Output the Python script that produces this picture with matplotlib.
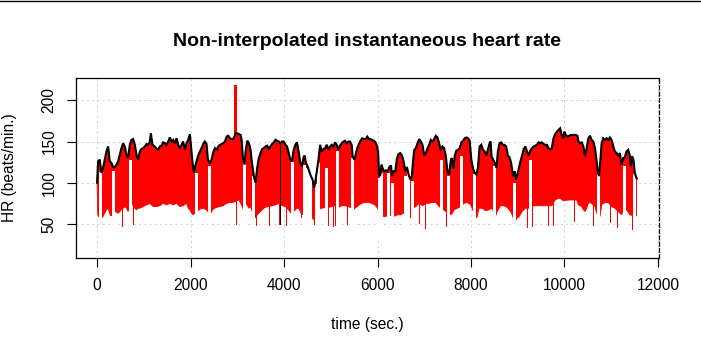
import numpy as np
import matplotlib
matplotlib.use("Agg")
import matplotlib.pyplot as plt
from matplotlib.lines import Line2D

plt.rcParams['font.family'] = ['Liberation Sans', 'DejaVu Sans']

# ---------------- data ----------------
upper_t = [0, 21, 57, 93, 128, 164, 200, 236, 271, 307, 343, 378, 414, 450, 486, 521, 557, 593, 628, 664,
           700, 735, 771, 807, 843, 878, 914, 950, 985, 1021, 1057, 1092, 1128, 1150, 1185, 1235, 1271, 1307,
           1342, 1378, 1414, 1450, 1485, 1521, 1557, 1592, 1628, 1664, 1700, 1735, 1771, 1807, 1842, 1878,
           1914, 1950, 1985, 2007, 2035, 2071, 2100, 2128, 2164, 2200, 2235, 2271, 2307, 2342, 2371, 2414,
           2450, 2485, 2521, 2557, 2592, 2628, 2664, 2700, 2735, 2771, 2807, 2842, 2878, 2914, 2964, 3000,
           3036, 3071, 3092, 3120, 3156, 3177, 3213, 3248, 3284, 3305, 3319, 3355, 3390, 3426, 3461, 3497,
           3532, 3568, 3603, 3639, 3674, 3710, 3745, 3781, 3816, 3852, 3887, 3922, 3957, 3993, 4028, 4064,
           4099, 4135, 4170, 4206, 4241, 4277, 4312, 4348, 4383, 4419, 4440, 4468, 4503, 4539, 4574, 4610,
           4645, 4666, 4702, 4737, 4773, 4808, 4844, 4879, 4915, 4950, 4985, 5021, 5056, 5092, 5127, 5163,
           5198, 5234, 5269, 5305, 5340, 5376, 5411, 5447, 5468, 5503, 5532, 5567, 5603, 5638, 5674, 5709,
           5745, 5780, 5816, 5851, 5887, 5922, 5958, 5993, 6014, 6035, 6063, 6085, 6120, 6147, 6182, 6218,
           6253, 6289, 6310, 6346, 6381, 6417, 6452, 6488, 6523, 6559, 6594, 6630, 6665, 6701, 6736, 6757,
           6786, 6821, 6857, 6892, 6928, 6963, 6999, 7034, 7070, 7105, 7141, 7176, 7212, 7247, 7283, 7318,
           7354, 7389, 7425, 7460, 7496, 7531, 7567, 7588, 7624, 7652, 7688, 7723, 7759, 7794, 7830, 7865,
           7901, 7936, 7972, 8007, 8043, 8078, 8114, 8149, 8185, 8220, 8256, 8291, 8327, 8362, 8398, 8419,
           8440, 8476, 8511, 8547, 8575, 8611, 8646, 8682, 8717, 8753, 8788, 8824, 8859, 8895, 8916, 8937,
           8966, 8987, 9022, 9058, 9093, 9129, 9164, 9198, 9233, 9269, 9304, 9340, 9375, 9411, 9446, 9482,
           9517, 9553, 9588, 9624, 9659, 9695, 9730, 9766, 9801, 9837, 9872, 9908, 9943, 9979, 10000, 10028,
           10064, 10099, 10135, 10170, 10206, 10241, 10277, 10298, 10334, 10369, 10405, 10440, 10476, 10511,
           10547, 10582, 10618, 10653, 10689, 10710, 10738, 10767, 10795, 10831, 10866, 10902, 10937, 10973,
           11008, 11044, 11079, 11115, 11150, 11186, 11221, 11257, 11292, 11328, 11363, 11399, 11420, 11448,
           11476, 11505, 11526, 11545]
upper_hr = [100, 126, 128, 112, 118, 128, 138, 144, 126, 124, 119, 119, 122, 126, 134, 142, 148, 144, 134, 130,
            146, 152, 153, 146, 134, 128, 138, 141, 142, 144, 147, 146, 150, 160, 146, 144, 141, 140,
            144, 145, 149, 148, 146, 150, 155, 150, 152, 148, 154, 146, 142, 146, 150, 140,
            148, 152, 159, 146, 128, 112, 120, 126, 133, 138, 142, 147, 150, 147, 128, 124,
            128, 137, 142, 140, 144, 146, 147, 148, 150, 156, 157, 154, 153, 153, 160, 160,
            159, 158, 152, 130, 122, 138, 151, 148, 140, 128, 122, 108, 100, 118, 130, 136,
            141, 142, 144, 145, 141, 144, 147, 149, 152, 151, 150, 148, 150, 150, 146, 144,
            136, 128, 126, 140, 146, 149, 138, 124, 120, 131, 133, 124, 120, 114, 108, 104,
            94, 100, 114, 128, 146, 138, 141, 142, 146, 140, 144, 146, 144, 149, 146, 140,
            145, 148, 150, 151, 148, 150, 150, 146, 132, 128, 134, 142, 147, 151, 154, 153,
            153, 156, 153, 153, 152, 151, 149, 144, 136, 108, 110, 122, 116, 114, 115, 114,
            119, 121, 108, 114, 114, 130, 135, 136, 133, 126, 114, 119, 110, 104, 108, 124,
            140, 142, 148, 153, 150, 146, 133, 136, 142, 146, 152, 150, 153, 157, 155, 148,
            139, 144, 142, 133, 114, 110, 126, 130, 117, 133, 139, 140, 142, 149, 151, 154,
            155, 154, 151, 128, 117, 112, 110, 118, 144, 146, 140, 138, 133, 140, 148, 150,
            132, 128, 124, 118, 138, 148, 149, 146, 146, 144, 133, 131, 124, 110, 108, 114,
            104, 108, 117, 126, 133, 141, 144, 138, 133, 139, 142, 144, 145, 146, 149, 148,
            149, 147, 146, 146, 142, 140, 142, 154, 159, 162, 164, 166, 158, 154, 162, 158,
            156, 157, 158, 158, 158, 158, 157, 150, 148, 149, 144, 132, 142, 154,
            157, 152, 150, 142, 126, 114, 108, 126, 148, 154, 152, 154, 152, 155,
            152, 144, 138, 136, 133, 136, 122, 130, 131, 138, 140, 133, 120, 132,
            128, 112, 108, 105]

lower_t = [14, 57, 93, 128, 164, 200, 236, 257, 286, 314, 385, 414, 450, 486, 521, 557, 593, 628, 664, 700,
           735, 771, 807, 843, 878, 914, 985, 1057, 1128, 1200, 1271, 1342, 1414, 1485, 1557, 1628, 1700,
           1771, 1842, 1914, 1950, 1985, 2021, 2057, 2092, 2128, 2164, 2200, 2271, 2342, 2414, 2450, 2485,
           2557, 2628, 2700, 2771, 2842, 2914, 2985, 3036, 3107, 3142, 3178, 3213, 3248, 3284, 3319, 3376,
           3404, 3426, 3461, 3497, 3532, 3568, 3603, 3639, 3674, 3745, 3816, 3887, 3957, 4028, 4064, 4099,
           4135, 4170, 4206, 4241, 4277, 4312, 4348, 4383, 4419, 4454, 4489, 4525, 4560, 4596, 4631, 4666,
           4702, 4737, 4773, 4808, 4879, 4950, 5021, 5092, 5163, 5234, 5305, 5376, 5447, 5482, 5518, 5589,
           5660, 5730, 5766, 5801, 5872, 5943, 6000, 6028, 6070, 6111, 6182, 6253, 6346, 6431, 6502, 6537,
           6608, 6679, 6715, 6750, 6821, 6892, 6963, 7034, 7105, 7176, 7247, 7318, 7389, 7460, 7531, 7567,
           7602, 7638, 7709, 7780, 7851, 7922, 7993, 8064, 8099, 8135, 8170, 8241, 8312, 8383, 8454, 8490,
           8525, 8561, 8632, 8703, 8774, 8845, 8880, 8916, 8951, 9022, 9093, 9164, 9198, 9269, 9340, 9446,
           9588, 9730, 9766, 9801, 9872, 9908, 9979, 10085, 10263, 10298, 10369, 10405, 10440, 10476, 10511,
           10547, 10618, 10653, 10689, 10760, 10795, 10866, 10937, 11008, 11079, 11150, 11221, 11257, 11328,
           11399, 11470, 11505, 11540]
lower_hr = [61, 57, 57, 59, 63, 67, 69, 65, 60, 60, 65, 64, 63, 65, 67, 69, 71, 69, 65, 73,
            75, 72, 69, 67, 69, 69, 71, 73, 75, 71, 71, 72, 75, 73, 75, 73, 75,
            71, 72, 75, 69, 67, 63, 61, 63, 65, 66, 68, 69, 67, 61, 65, 68,
            70, 71, 72, 75, 76, 76, 78, 79, 71, 65, 73, 73, 69, 71, 65, 57,
            59, 61, 63, 65, 67, 69, 70, 71, 71, 72, 73, 75, 72, 71, 69, 67,
            64, 62, 65, 67, 69, 69, 65, 61, 63, 61, 59, 57, 59, 58, 55, 59,
            61, 63, 69, 69, 70, 70, 71, 72, 70, 72, 72, 71, 69, 67, 69, 72,
            75, 76, 76, 76, 75, 73, 69, 65, 60, 59, 59, 61, 59, 61, 61, 63,
            61, 59, 57, 69, 71, 75, 72, 75, 75, 76, 76, 71, 68, 65, 63, 61,
            63, 67, 69, 71, 75, 76, 73, 63, 57, 59, 69, 69, 66, 67, 69, 63,
            59, 65, 72, 72, 70, 65, 61, 55, 57, 58, 65, 69, 69, 69, 72, 72,
            72, 72, 76, 79, 81, 81, 78, 79, 79, 73, 71, 67, 65, 69, 75,
            76, 73, 71, 63, 59, 73, 76, 76, 71, 69, 65, 61, 66, 67,
            61, 60, 58, 60]

# white gaps in the red band: time and the height they reach
gap_t = [64, 345, 700, 2110, 2400, 3135, 3340, 4160, 4432, 4500, 4560, 4680, 4737, 4893, 5130, 5460,
         6030, 6075, 6215, 6314, 6580, 6643, 6743, 7350, 7510, 7778, 8057, 8492, 8920, 9257, 10724,
         11282, 11480]
gap_top = [113, 114, 128, 112, 120, 128, 108, 125, 122, 118, 110, 98, 124, 118, 138, 130,
           106, 112, 112, 100, 108, 112, 102, 128, 108, 132, 110, 120, 100, 128, 110,
           120, 110]

# single beats dropping below the band
drop_t = [543, 778, 2964, 3163, 3405, 3674, 3887, 4050, 4369, 4539, 4631, 4688, 4751, 4950, 5042, 5092,
          5340, 6085, 6573, 6665, 6750, 6892, 7020, 7467, 8902, 8966, 9200, 9304, 9645, 9745, 10213,
          10618, 10738, 10973, 11115, 11448]
drop_hr = [48, 50, 50, 63, 49, 49, 50, 49, 58, 56, 50, 50, 62, 49, 47, 49,
           50, 58, 56, 56, 57, 51, 45, 47, 35, 56, 46, 47, 49, 49, 53,
           49, 53, 52, 46, 44]

# upward artefact and black one-beat drop
spike_t = [2950]
spike_hr = [218.5]
spike_base = [158]
black_drop_t = [3906]
black_drop_hr = [50]
black_drop_top = [148]

x_ticks = [0, 2000, 4000, 6000, 8000, 10000, 12000]
y_ticks = [50, 100, 150, 200]

title = "Non-interpolated instantaneous heart rate"
xlabel = "time (sec.)"
ylabel = "HR (beats/min.)"

# ---------------- figure ----------------
W, H = 701, 356
fig = plt.figure(figsize=(W / 100, H / 100), dpi=100)
L, R, T, B = 75.5, 658.5, 78.3, 258.3
ax = fig.add_axes([L / W, 1 - B / H, (R - L) / W, (B - T) / H])

ax.set_xlim(-462, 12012)
ax.set_ylim(8.2, 226.8)

# grid
for xt in x_ticks:
    ax.axvline(xt, color='#D3D3D3', lw=0.75, ls=(0, (2, 3)), zorder=0)
for yt in y_ticks:
    ax.axhline(yt, color='#D3D3D3', lw=0.75, ls=(0, (2, 3)), zorder=0)

# red band
poly_x = np.concatenate([upper_t, lower_t[::-1]])
poly_y = np.concatenate([upper_hr, lower_hr[::-1]])
ax.fill(poly_x, poly_y, color='#FF0000', lw=0.6, ec='#FF0000', zorder=2)

# downward beats
ax.vlines(drop_t, drop_hr, 80, color='#FF0000', lw=0.72, zorder=2, antialiased=False)
# white gaps
ax.vlines(gap_t, 30, gap_top, color='white', lw=1.0, zorder=3, antialiased=False)
# upward spike
ax.vlines(spike_t, spike_base, spike_hr, color='#FF0000', lw=1.0, zorder=3, antialiased=False)

# black line
ax.plot(upper_t, upper_hr, color='black', lw=1.5, zorder=4, solid_joinstyle='miter')
ax.vlines(black_drop_t, black_drop_hr, black_drop_top, color='black', lw=0.72, zorder=4, antialiased=False)

# axes styling
ax.set_xticks(x_ticks)
ax.set_xticklabels([str(v) for v in x_ticks])
ax.set_yticks(y_ticks)
ax.set_yticklabels([str(v) for v in y_ticks], rotation=90, va='center')
ax.tick_params(axis='both', direction='out', length=6.5, width=0.8, labelsize=11.2, color='black')
ax.tick_params(axis='x', pad=8.0)
ax.tick_params(axis='y', pad=7.0)
for s in ['top', 'left', 'bottom']:
    ax.spines[s].set_linewidth(0.9)
ax.spines['right'].set_linewidth(0.9)
ax.spines['right'].set_linestyle((0, (3, 2)))

fig.text(367 / W, 1 - 42 / H, title, ha='center', va='center', fontsize=14, fontweight='bold')
fig.text(367 / W, 1 - 325 / H, xlabel, ha='center', va='center', fontsize=11.2)
fig.text(10 / W, 1 - 168 / H, ylabel, ha='center', va='center', rotation=90, fontsize=11.2)

fig.add_artist(Line2D([0, 1], [1 - 0.5 / H, 1 - 0.5 / H], transform=fig.transFigure, color='black', lw=1.0))

fig.savefig('out.png', dpi=100)
